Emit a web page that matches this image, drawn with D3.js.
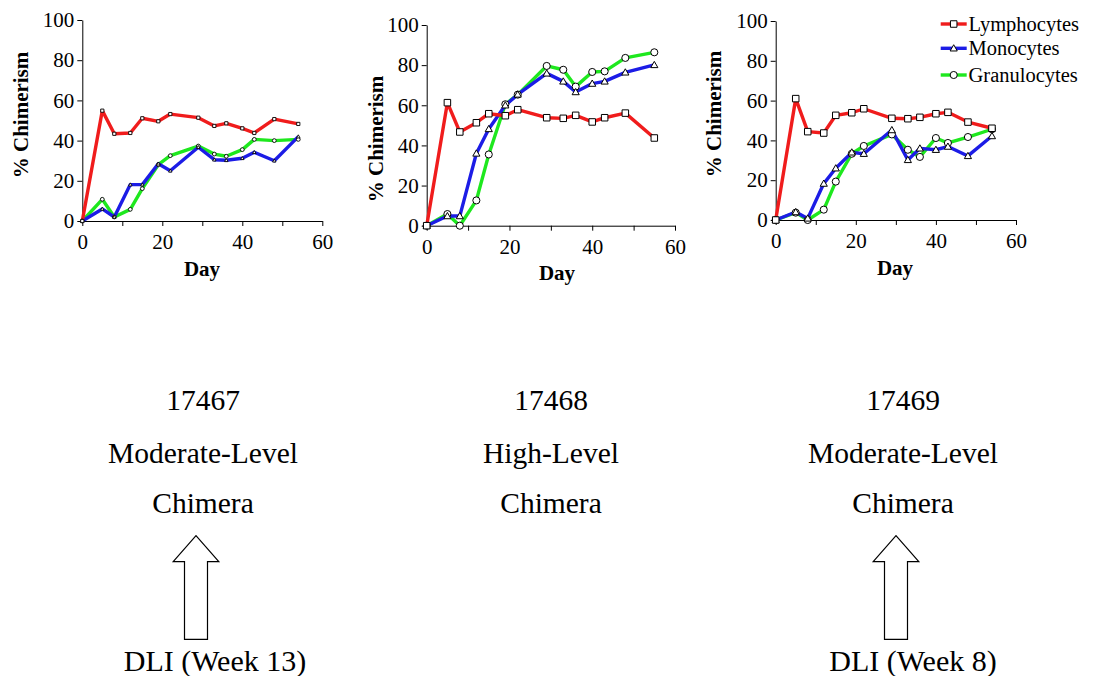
<!DOCTYPE html>
<html>
<head>
<meta charset="utf-8">
<script src="https://cdn.jsdelivr.net/npm/d3@7"></script>
<style>
  html, body { margin: 0; padding: 0; background: #fff; }
  svg { display: block; }
  svg text { font-family: "Liberation Serif", "Times New Roman", Times, serif; }
</style>
</head>
<body>
<svg id="chart" width="1095" height="676"></svg>
<script>
// Percent donor chimerism by cell lineage, per animal
const seriesNames = ["Lymphocytes", "Monocytes", "Granulocytes"];
const seriesColors = ["#f01c1c", "#1c1ce6", "#1ee81e"];
const seriesSymbols = ["square", "triangle", "circle"];

const xTicks = [0, 10, 20, 30, 40, 50, 60];
const yTicks = [0, 20, 40, 60, 80, 100];

const days17467 = [0, 5, 8, 12, 15, 19, 22, 29, 33, 36, 40, 43, 48, 54];
const lymph17467 = [0, 54.9, 43.4, 43.8, 51.1, 49.6, 53.2, 51.4, 47.3, 48.6, 46.1, 43.8, 50.7, 48.3];
const mono17467  = [0, 6.0, 2.0, 18.1, 18.1, 28.5, 25.0, 36.7, 30.5, 30.2, 31.2, 34.2, 30.0, 42.0];
const gran17467  = [0, 10.8, 2.0, 5.8, 16.1, 28.0, 32.5, 37.3, 33.3, 32.2, 35.5, 40.6, 40.0, 40.6];

const days17468 = [0, 5, 8, 12, 15, 19, 22, 29, 33, 36, 40, 43, 48, 55];
const lymph17468 = [0, 61.3, 46.7, 51.3, 55.8, 54.8, 57.8, 53.8, 53.5, 55.0, 51.7, 53.8, 56.1, 43.7];
const mono17468  = [0, 4.8, 4.8, 36.0, 48.2, 60.0, 65.4, 75.9, 71.9, 66.6, 70.8, 71.9, 76.4, 80.1];
const gran17468  = [0, 5.8, 0, 12.6, 35.5, 60.5, 65.3, 79.6, 77.7, 69.3, 76.6, 76.9, 83.6, 86.4];

const days17469 = [0, 5, 8, 12, 15, 19, 22, 29, 33, 36, 40, 43, 48, 54];
const lymph17469 = [0, 61.0, 44.4, 43.7, 52.6, 53.9, 55.9, 51.1, 50.9, 51.6, 53.4, 54.1, 49.2, 46.1];
const mono17469  = [0, 4.0, 0.8, 18.3, 26.0, 34.0, 33.3, 45.2, 30.2, 36.0, 35.3, 36.9, 32.2, 42.2];
const gran17469  = [0, 3.7, 0, 5.2, 19.3, 33.3, 37.2, 43.0, 35.3, 31.7, 41.2, 38.7, 41.7, 45.6];

const animalIds = ["17467", "17468", "17469"];
const chimeraLevels = ["Moderate-Level", "High-Level", "Moderate-Level"];
const dliLabels = ["DLI (Week 13)", null, "DLI (Week 8)"];

const panels = [
  { days: days17467, values: [lymph17467, mono17467, gran17467],
    x0: 82.3, x1: 322.3, y0: 221, y1: 20, marker: 3.2, yLabelY: 115, yLabelX: 28, dayX: 202, dayY: 276,
    textX: 203, arrowX: 196, dliX: 215 },
  { days: days17468, values: [lymph17468, mono17468, gran17468],
    x0: 426.7, x1: 675, y0: 225.7, y1: 25, marker: 6.5, yLabelY: 139, yLabelX: 383, dayX: 557, dayY: 280,
    textX: 551 },
  { days: days17469, values: [lymph17469, mono17469, gran17469],
    x0: 775.7, x1: 1016, y0: 220, y1: 21, marker: 6.5, yLabelY: 114, yLabelX: 721, dayX: 895, dayY: 275,
    textX: 903, arrowX: 896, dliX: 913 }
];

const svg = d3.select("#chart");
const fontSize = 21;
const serif = "Liberation Serif";

function symbolPath(kind, s) {
  if (kind === "square") {
    const h = s / 2;
    return `M${-h},${-h}H${h}V${h}H${-h}Z`;
  }
  if (kind === "triangle") {
    const h = s * 0.55;
    return `M0,${-h}L${h},${h * 0.75}L${-h},${h * 0.75}Z`;
  }
  return d3.symbol().type(d3.symbolCircle).size(Math.PI * (s / 2 + 0.3) ** 2)();
}

panels.forEach((p, pi) => {
  const x = d3.scaleLinear().domain([0, 60]).range([p.x0, p.x1]);
  const y = d3.scaleLinear().domain([0, 100]).range([p.y0, p.y1]);
  const g = svg.append("g");

  // axes
  const xAxis = d3.axisBottom(x).tickValues(xTicks).tickSize(5).tickSizeOuter(0)
    .tickPadding(4).tickFormat(d => d % 20 === 0 ? d : "");
  const yAxis = d3.axisLeft(y).tickValues(yTicks).tickSize(5).tickSizeOuter(0)
    .tickPadding(3);

  const gx = g.append("g").attr("transform", `translate(0,${p.y0})`).call(xAxis);
  const gy = g.append("g").attr("transform", `translate(${p.x0},0)`).call(yAxis);
  [gx, gy].forEach(a => {
    a.attr("font-family", serif);
    a.selectAll("path, line").attr("stroke", "#000").attr("stroke-width", 1);
    a.selectAll("text").attr("font-family", serif).attr("font-size", fontSize).attr("fill", "#000");
  });
  gx.selectAll("text").attr("dy", "0.9em");

  g.append("text")
    .attr("x", p.dayX).attr("y", p.dayY)
    .attr("text-anchor", "middle")
    .attr("font-family", serif)
    .attr("font-weight", "bold").attr("font-size", fontSize)
    .text("Day");

  g.append("text")
    .attr("transform", `translate(${p.yLabelX},${p.yLabelY}) rotate(-90)`)
    .attr("text-anchor", "middle")
    .attr("font-family", serif)
    .attr("font-weight", "bold").attr("font-size", fontSize)
    .text("% Chimerism");

  // lines: granulocytes, monocytes, lymphocytes
  const line = d3.line().x((d, i) => x(p.days[i])).y(d => y(d));
  [2, 1, 0].forEach(si => {
    g.append("path")
      .datum(p.values[si])
      .attr("d", line)
      .attr("fill", "none")
      .attr("stroke", seriesColors[si])
      .attr("stroke-width", 3.4)
      .attr("stroke-linejoin", "round");
  });
  [2, 1, 0].forEach(si => {
    g.selectAll(null)
      .data(p.values[si])
      .join("path")
      .attr("transform", (d, i) => `translate(${x(p.days[i])},${y(d)})`)
      .attr("d", symbolPath(seriesSymbols[si], p.marker))
      .attr("fill", "#fff")
      .attr("stroke", "#000")
      .attr("stroke-width", p.marker < 4 ? 0.9 : 1);
  });

  // annotation text under each panel
  const lines = [animalIds[pi], chimeraLevels[pi], "Chimera"];
  const baselines = [410, 462.5, 513];
  lines.forEach((t, k) => {
    svg.append("text")
      .attr("x", p.textX).attr("y", baselines[k])
      .attr("text-anchor", "middle")
      .attr("font-family", serif)
      .attr("font-size", 29.5)
      .text(t);
  });

  if (dliLabels[pi]) {
    const ax = p.arrowX;
    const tip = 535.7, headBase = 561.7, bottom = 639.3;
    const headHalf = 22.8, shaftHalf = 11.5;
    svg.append("path")
      .attr("d", `M${ax},${tip}L${ax + headHalf},${headBase}L${ax + shaftHalf},${headBase}` +
                 `L${ax + shaftHalf},${bottom}L${ax - shaftHalf},${bottom}L${ax - shaftHalf},${headBase}` +
                 `L${ax - headHalf},${headBase}Z`)
      .attr("fill", "#fff").attr("stroke", "#000").attr("stroke-width", 1.2);
    svg.append("text")
      .attr("x", p.dliX).attr("y", 671)
      .attr("text-anchor", "middle")
      .attr("font-family", serif)
      .attr("font-size", 30)
      .text(dliLabels[pi]);
  }
});

// legend in the third panel
const legend = svg.append("g");
const legendRows = [24, 48.3, 75];
seriesNames.forEach((name, i) => {
  const ly = legendRows[i];
  legend.append("line")
    .attr("x1", 940.7).attr("x2", 966.7).attr("y1", ly).attr("y2", ly)
    .attr("stroke", seriesColors[i]).attr("stroke-width", 3.4);
  legend.append("path")
    .attr("transform", `translate(953.7,${ly})`)
    .attr("d", symbolPath(seriesSymbols[i], 6.5))
    .attr("fill", "#fff").attr("stroke", "#000").attr("stroke-width", 1);
  legend.append("text")
    .attr("x", 968.5).attr("y", ly + 6.5)
    .attr("font-family", serif)
    .attr("font-size", 20.5)
    .text(name);
});
</script>
</body>
</html>
